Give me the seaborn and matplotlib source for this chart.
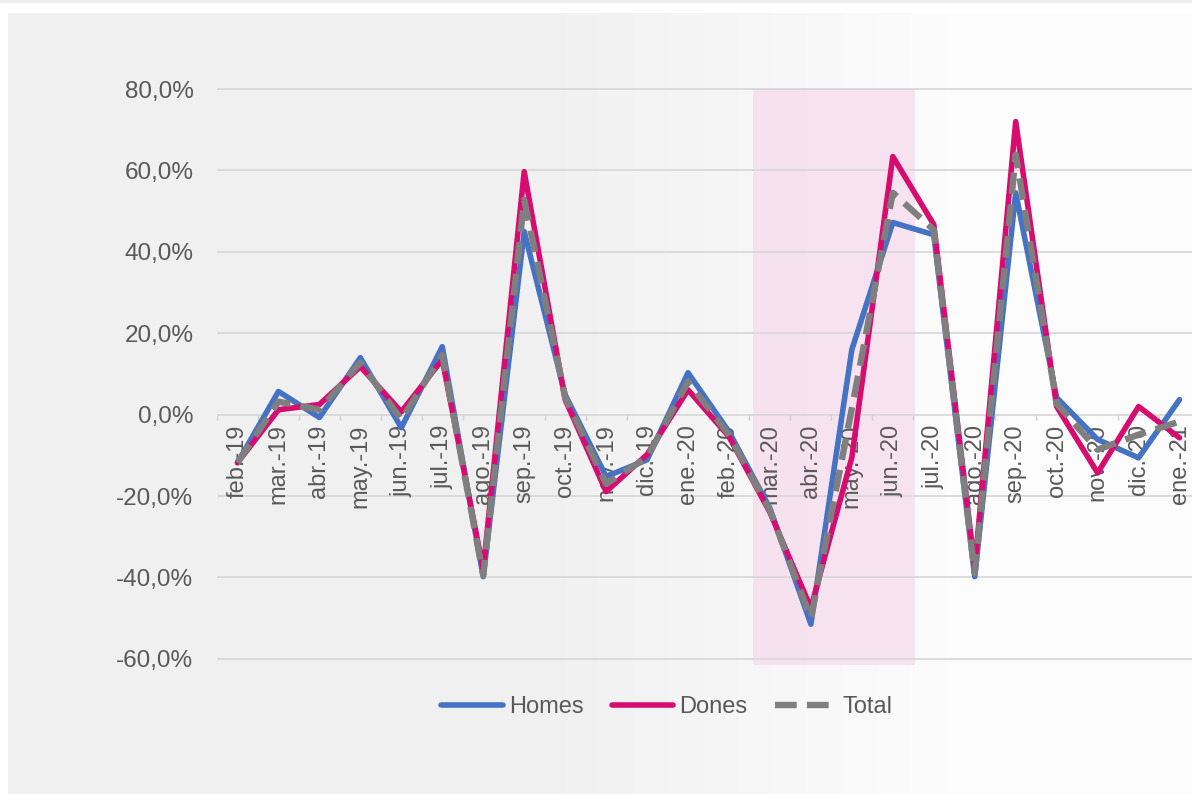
import numpy as np
import pandas as pd
import matplotlib.pyplot as plt
import seaborn as sns

# --- data (monthly % change) ---
months = ["feb.-19", "mar.-19", "abr.-19", "may.-19", "jun.-19", "jul.-19",
          "ago.-19", "sep.-19", "oct.-19", "nov.-19", "dic.-19", "ene.-20",
          "feb.-20", "mar.-20", "abr.-20", "may.-20", "jun.-20", "jul.-20",
          "ago.-20", "sep.-20", "oct.-20", "nov.-20", "dic.-20", "ene.-21"]
homes = [-11.8, 5.7, -0.7, 14.0, -3.2, 16.7, -39.8, 45.0, 4.9, -15.2, -11.1, 10.3,
         -4.2, -23.0, -51.5, 16.0, 47.2, 44.2, -39.8, 54.5, 4.2, -6.1, -10.6, 3.7]
dones = [-11.8, 1.2, 2.5, 11.8, 0.7, 13.5, -38.0, 59.7, 3.7, -18.9, -9.8, 6.1,
         -5.4, -24.0, -47.5, -10.5, 63.4, 46.7, -37.5, 72.0, 2.0, -14.3, 2.0, -5.7]
total = [-11.8, 3.2, 1.2, 12.8, -1.2, 14.7, -39.5, 52.8, 4.3, -17.0, -10.5, 8.1,
         -5.0, -23.5, -50.0, 1.5, 54.5, 45.4, -39.0, 63.9, 2.7, -8.6, -4.9, -1.7]
yticks = [-60, -40, -20, 0, 20, 40, 60, 80]
shade_from, shade_to = 12.58, 16.54   # mar.-20 .. jun.-20 band

c_homes, c_dones, c_total = "#4472C4", "#D80B6E", "#7F7F7F"
txt = "#595959"

W, H = 1192, 794
fig = plt.figure(figsize=(W / 100, H / 100), dpi=100, facecolor="white")

# panel background with soft gradient (grey on the left, near white on the right)
bg = fig.add_axes([8 / W, 0, 1 - 8 / W, 1 - 13 / H], zorder=-10)
grad = np.concatenate([np.full(520, 0.0), np.linspace(0, 1, 420), np.full(244, 1.0)])
bg.imshow(grad[np.newaxis, :], aspect="auto", extent=[0, 1, 0, 1],
          cmap=plt.matplotlib.colors.LinearSegmentedColormap.from_list(
              "g", ["#f0f0f0", "#fcfcfc"]))
bg.set_axis_off()
top = fig.add_axes([0, 1 - 3 / H, 1, 3 / H], zorder=-10)
top.set_axis_off()
top.add_patch(plt.Rectangle((0, 0), 1, 1, color="#eeeeee"))

sns.set_style("white")
plt.rcParams["font.family"] = ["Liberation Sans", "DejaVu Sans"]

ax_l, ax_r = 217, 1200
ax_t, ax_b = 87.8, 665
ax = fig.add_axes([ax_l / W, 1 - ax_b / H, (ax_r - ax_l) / W, (ax_b - ax_t) / H])
ax.patch.set_alpha(0)

df = pd.DataFrame({"idx": range(len(months)), "Homes": homes,
                   "Dones": dones, "Total": total})

ax.axvspan(shade_from, shade_to, color="#f6dcec", alpha=0.75, lw=0, zorder=0)
for t in yticks:
    ax.axhline(t, color="#d9d9d9", lw=1.3, zorder=1)
ax.vlines(np.arange(-0.5, len(months), 1), -1.3, 0, color="#d0d0d0", lw=1, zorder=1)

sns.lineplot(data=df, x="idx", y="Homes", ax=ax, color=c_homes, lw=4.0,
             label="Homes", zorder=3)
sns.lineplot(data=df, x="idx", y="Dones", ax=ax, color=c_dones, lw=4.0,
             label="Dones", zorder=4)
sns.lineplot(data=df, x="idx", y="Total", ax=ax, color=c_total, lw=4.6,
             label="Total", zorder=5)
ax.lines[-1].set_dashes((3.4, 1.6))
for ln in ax.lines[-3:]:
    ln.set_solid_capstyle("round")
    ln.set_solid_joinstyle("round")
    ln.set_dash_joinstyle("round")

ax.set_xlim(-0.5, len(months) - 0.5)
ax.set_ylim(-61.5, 80.3)
ax.set_yticks(yticks)
ax.set_yticklabels([f"{t},0%" for t in yticks], color=txt, fontsize=17.5)
ax.tick_params(axis="y", length=0, pad=17)
ax.set_xticks([])
ax.set_xlabel("")
ax.set_ylabel("")
for s in ax.spines.values():
    s.set_visible(False)

for i, m in enumerate(months):
    ax.text(i, -2.4, m, rotation=90, ha="center", va="top",
            fontsize=17, color=txt, zorder=2)

ax.legend(loc="center", bbox_to_anchor=(667 / W, 1 - 707 / H),
          bbox_transform=fig.transFigure, ncol=3, frameon=False,
          fontsize=17, labelcolor=txt, handlelength=2.6,
          handletextpad=0.25, columnspacing=1.2)

fig.savefig("out.png", dpi=100)
